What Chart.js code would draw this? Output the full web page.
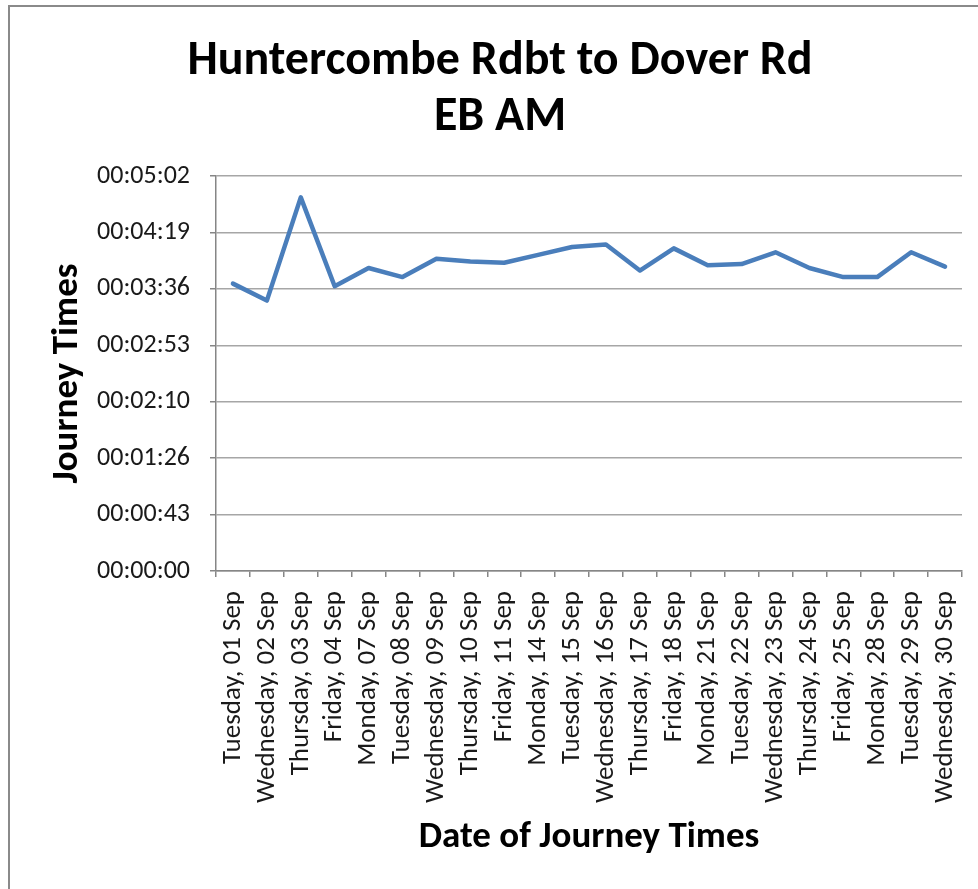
<!DOCTYPE html>
<html>
<head>
<meta charset="utf-8">
<script src="https://cdn.jsdelivr.net/npm/chart.js@4.4.1/dist/chart.umd.min.js"></script>
<style>
  html, body { margin: 0; padding: 0; background: #fff; }
  #wrap { position: relative; width: 978px; height: 889px; overflow: hidden; }
  #frame { position: absolute; left: 8px; top: 5px; width: 1000px; height: 900px;
           border-left: 2px solid #8a8a8a; border-top: 2px solid #8a8a8a; }
  canvas { position: absolute; left: 0; top: 0; }
</style>
</head>
<body>
<div id="wrap">
  <div id="frame"></div>
  <canvas id="chart" width="978" height="889"></canvas>
</div>
<script>
const dates = [
  'Tuesday, 01 Sep', 'Wednesday, 02 Sep', 'Thursday, 03 Sep', 'Friday, 04 Sep',
  'Monday, 07 Sep', 'Tuesday, 08 Sep', 'Wednesday, 09 Sep', 'Thursday, 10 Sep',
  'Friday, 11 Sep', 'Monday, 14 Sep', 'Tuesday, 15 Sep', 'Wednesday, 16 Sep',
  'Thursday, 17 Sep', 'Friday, 18 Sep', 'Monday, 21 Sep', 'Tuesday, 22 Sep',
  'Wednesday, 23 Sep', 'Thursday, 24 Sep', 'Friday, 25 Sep', 'Monday, 28 Sep',
  'Tuesday, 29 Sep', 'Wednesday, 30 Sep'
];

// journey time in seconds
const journeySeconds = [
  220, 207, 286, 218, 232, 225, 239, 237, 236, 242, 248,
  250, 230, 247, 234, 235, 244, 232, 225, 225, 244, 233
];

const yTickSeconds = [0, 43.2, 86.4, 129.6, 172.8, 216, 259.2, 302.4];
const yTickLabels = ['00:00:00', '00:00:43', '00:01:26', '00:02:10', '00:02:53', '00:03:36', '00:04:19', '00:05:02'];

const FONT = 'Carlito, Calibri, Lato, sans-serif';
const TEXT = '#1a1a1a';

new Chart(document.getElementById('chart'), {
  type: 'line',
  data: {
    labels: dates,
    datasets: [{
      label: 'Journey Times',
      data: journeySeconds,
      borderColor: '#4a7ebb',
      borderWidth: 4.5,
      pointRadius: 0,
      tension: 0,
      borderJoinStyle: 'round',
      borderCapStyle: 'round'
    }]
  },
  options: {
    responsive: false,
    animation: false,
    layout: { padding: { left: 38, top: 34, right: 16, bottom: 0 } },
    plugins: {
      legend: { display: false },
      tooltip: { enabled: false },
      title: {
        display: true,
        text: ['Huntercombe Rdbt to Dover Rd', 'EB AM'],
        color: '#000',
        font: { family: FONT, size: 48, weight: 'bold', lineHeight: '56px' },
        padding: { top: 0, bottom: 30 }
      }
    },
    scales: {
      x: {
        offset: true,
        afterFit(scale) {
          scale.height = 889 - 571;
          scale.paddingLeft = 0;
          scale.paddingRight = 0;
        },
        ticks: {
          autoSkip: false,
          maxRotation: 90,
          minRotation: 90,
          padding: 14,
          color: TEXT,
          font: { family: FONT, size: 27 }
        },
        grid: {
          offset: true,
          drawOnChartArea: false,
          drawTicks: true,
          tickLength: 6,
          tickColor: '#868686',
          lineWidth: 1.5
        },
        border: { color: '#868686', width: 1.5 },
        title: {
          display: true,
          text: 'Date of Journey Times',
          color: '#000',
          font: { family: FONT, size: 37, weight: 'bold', lineHeight: 1.2 },
          padding: { top: 0, bottom: 29 }
        }
      },
      y: {
        min: 0,
        max: 302.4,
        afterBuildTicks(scale) {
          scale.ticks = yTickSeconds.map((v) => ({ value: v }));
        },
        afterFit(scale) {
          scale.width = 178;
          scale.paddingTop = 0;
          scale.paddingBottom = 0;
        },
        ticks: {
          padding: 20,
          color: TEXT,
          font: { family: FONT, size: 26 },
          callback(value, index) { return yTickLabels[index]; }
        },
        grid: {
          color: '#a6a6a6',
          lineWidth: 1.5,
          drawTicks: true,
          tickLength: 6,
          tickColor: '#868686'
        },
        border: { color: '#868686', width: 1.5 },
        title: {
          display: true,
          text: 'Journey Times',
          color: '#000',
          font: { family: FONT, size: 37, weight: 'bold', lineHeight: 1.2 },
          padding: { top: 8, bottom: 0 }
        }
      }
    }
  }
});
</script>
</body>
</html>
